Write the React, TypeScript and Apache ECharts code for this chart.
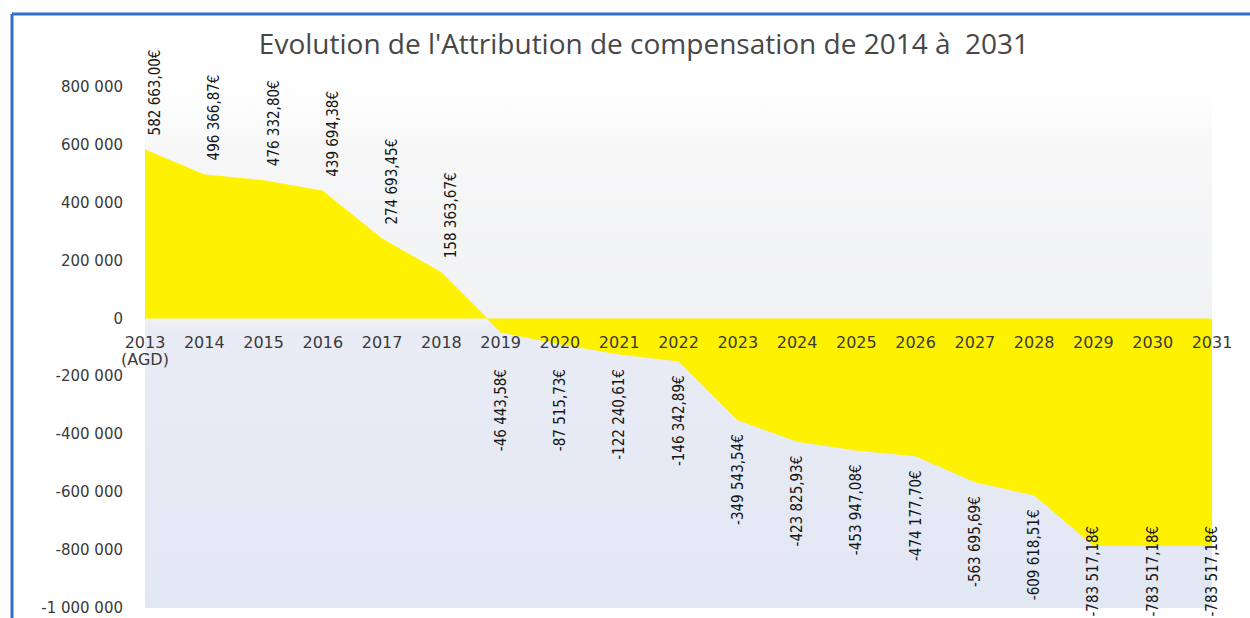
import React, { useEffect, useRef } from 'react';
import * as echarts from 'echarts';

const chartTitle = "Evolution de l'Attribution de compensation de 2014 à  2031";
const categories = [
  '2013\n(AGD)', '2014', '2015', '2016', '2017', '2018', '2019', '2020', '2021', '2022',
  '2023', '2024', '2025', '2026', '2027', '2028', '2029', '2030', '2031',
];
const values = [
  582663.0, 496366.87, 476332.8, 439694.38, 274693.45, 158363.67,
  -46443.58, -87515.73, -122240.61, -146342.89, -349543.54, -423825.93,
  -453947.08, -474177.7, -563695.69, -609618.51, -783517.18, -783517.18, -783517.18,
];
const yMin = -1000000;
const yMax = 800000;
const yStep = 200000;

function groupThousands(s: string): string {
  return s.replace(/\B(?=(\d{3})+(?!\d))/g, ' ');
}
function fmtAxis(v: number): string {
  return (v < 0 ? '-' : '') + groupThousands(String(Math.round(Math.abs(v))));
}
function fmtEuro(v: number): string {
  const [i, d] = Math.abs(v).toFixed(2).split('.');
  return (v < 0 ? '-' : '') + groupThousands(i) + ',' + d + '€';
}

const labelFont = "'Liberation Sans Narrow', 'DejaVu Sans Condensed', sans-serif";
const labelSize = 15;
const axisFont = "'DejaVu Sans', Verdana, sans-serif";
const chartW = 1250;
const chartH = 618;

function buildData(distFor: (v: number, i: number) => number) {
  return values.map((v, i) => ({
    value: v,
    label: {
      position: v >= 0 ? 'top' : 'bottom',
      align: v >= 0 ? 'left' : 'right',
      distance: distFor(v, i),
      offset: v >= 0 ? [0, 10] : [0, 0],
    },
  }));
}

function textLength(t: string): number {
  const el = new echarts.graphic.Text({
    style: { text: t, fontFamily: labelFont, fontSize: labelSize },
  });
  return el.getBoundingRect().width;
}

export default function App() {
  const ref = useRef<HTMLDivElement>(null);
  useEffect(() => {
    document.body.style.margin = '0';
    if (!ref.current) return;
    const chart = echarts.init(ref.current, undefined, { renderer: 'svg' });
    chart.setOption({
      animation: false,
      backgroundColor: '#ffffff',
      title: {
        text: chartTitle,
        left: 639,
        top: 24,
        textAlign: 'center',
        textStyle: { fontFamily: "'Open Sans', sans-serif", fontSize: 28, fontWeight: 'normal', color: '#474747' },
      },
      grid: {
        left: 145,
        right: 38,
        top: 87,
        bottom: 10,
        outerBoundsMode: 'none',
        containLabel: false,
        show: true,
        borderWidth: 0,
        backgroundColor: new echarts.graphic.LinearGradient(0, 0, 0, 1, [
          { offset: 0, color: '#ffffff' },
          { offset: 0.12, color: '#f7f7f8' },
          { offset: 0.44, color: '#f1f2f4' },
          { offset: 0.47, color: '#e9ecf5' },
          { offset: 1, color: '#e2e7f4' },
        ]),
      },
      xAxis: {
        type: 'category',
        data: categories,
        boundaryGap: false,
        position: 'bottom',
        offset: 0,
        z: 10,
        axisLine: { show: false, onZero: false },
        axisTick: { show: false },
        splitLine: { show: false },
        axisLabel: {
          interval: 0,
          margin: 15,
          fontFamily: axisFont,
          fontSize: 16,
          lineHeight: 17,
          color: '#3a3a3a',
        },
      },
      yAxis: {
        type: 'value',
        min: yMin,
        max: yMax,
        interval: yStep,
        axisLine: { show: false },
        axisTick: { show: false },
        splitLine: { show: false },
        axisLabel: {
          margin: 22,
          fontFamily: axisFont,
          fontSize: 15,
          color: '#3a3a3a',
          formatter: (v: number) => fmtAxis(v),
        },
      },
      series: [
        {
          type: 'line',
          silent: true,
          symbol: 'circle',
          symbolSize: 1,
          itemStyle: { color: '#fff200' },
          lineStyle: { color: '#fff200', width: 1 },
          areaStyle: { color: '#fff200', opacity: 1 },
          emphasis: { disabled: true },
          data: buildData(() => 14),
          label: {
            show: true,
            rotate: 90,
            verticalAlign: 'middle',
            fontFamily: labelFont,
            fontSize: labelSize,
            color: '#161616',
            formatter: (p: any) => fmtEuro(p.value),
          },
        },
      ],
      graphic: [
        { type: 'line', shape: { x1: 12, y1: 14, x2: chartW, y2: 14 }, style: { stroke: '#2f6fd0', lineWidth: 3 } },
        { type: 'line', shape: { x1: 12, y1: 14, x2: 12, y2: chartH }, style: { stroke: '#2f6fd0', lineWidth: 3 } },
      ],
    });
    // Place the category axis on the value axis' zero, using the library's own scale,
    // keep negative value labels clear of the category labels and inside the chart.
    const zeroY = chart.convertToPixel({ yAxisIndex: 0 }, 0) as number;
    const bottomY = chart.convertToPixel({ yAxisIndex: 0 }, yMin) as number;
    chart.setOption({
      xAxis: { offset: zeroY - bottomY },
      series: [
        {
          data: buildData((v) => {
            if (v >= 0) return 14;
            const py = chart.convertToPixel({ yAxisIndex: 0 }, v) as number;
            const d = Math.max(14, zeroY + 50 - py);
            const len = textLength(fmtEuro(v));
            return Math.min(d, chartH - 2 - len - py);
          }),
        },
      ],
    });
    return () => chart.dispose();
  }, []);
  return <div ref={ref} style={{ width: chartW, height: chartH }} />;
}
